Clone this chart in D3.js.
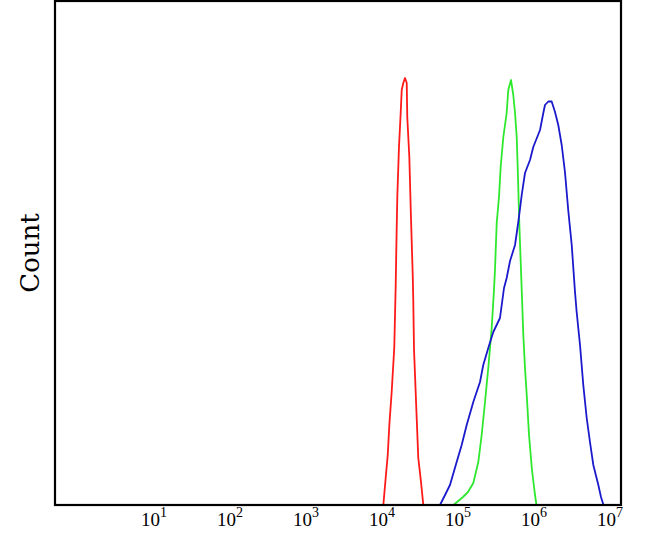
<!DOCTYPE html>
<html>
<head>
<meta charset="utf-8">
<script src="https://cdn.jsdelivr.net/npm/d3@7"></script>
<style>
  html, body { margin: 0; padding: 0; background: #fff; }
  svg { display: block; }
</style>
</head>
<body>
<div id="chart"></div>
<script>
// ---- Data (fluorescence intensity, count) ----
const tickValues = [1e1, 1e2, 1e3, 1e4, 1e5, 1e6, 1e7];
const yLabel = "Count";

const redX = [10570, 11350, 12080, 12680, 13610, 14720, 15380, 15740, 16140, 16980, 17910, 18450, 19360, 20370, 21480, 21830, 23230, 24430, 25760, 26180, 26790, 27610, 29040, 30480, 33110, 35480];
const redY = [0, 13.5, 25, 40, 56.5, 78.5, 110, 132.5, 154, 179, 196.5, 207.5, 211, 213.5, 211, 194, 174, 143.5, 115, 102.5, 77.5, 65, 43.5, 23.5, 11.5, 0];

const greenX = [88510, 118100, 137400, 161400, 187900, 208000, 230100, 254100, 281800, 302000, 311200, 328100, 351600, 369800, 400900, 443600, 465600, 505800, 542000, 571500, 601200, 619400, 650100, 679200, 699800, 734500, 772700, 814700, 873000, 955000, 1047000, 1094000];
const greenY = [0, 4, 6.5, 11, 21.5, 35, 51.5, 68.5, 88.5, 107.5, 117.5, 141, 154, 169, 184, 196, 207.5, 212.5, 205, 196, 184, 169, 141, 121, 107.5, 85, 68.5, 55, 35, 17.5, 5, 0];

const blueX = [58880, 68550, 79620, 97500, 113500, 132100, 161400, 197700, 218300, 254100, 295800, 362200, 409300, 443600, 490900, 571500, 631000, 699800, 772700, 899500, 993100, 1219000, 1346000, 1416000, 1567000, 1734000, 1919000, 2118000, 2350000, 2594000, 2871000, 3184000, 3516000, 3698000, 4093000, 4519000, 5012000, 5534000, 6124000, 7129000, 7727000, 8337000];
const blueY = [0, 5, 10, 21.5, 30, 40, 51.5, 61.5, 70, 78.5, 86.5, 93.5, 108.5, 113.5, 122, 130, 141.5, 155, 166, 172.5, 179, 187.5, 196, 200, 201.75, 201.75, 196.5, 190, 180, 166.5, 147, 130, 106.5, 96.5, 80, 60, 43.5, 31.5, 20, 10, 4, 0];

const seriesNames = ["red", "green", "blue"];
const seriesColors = ["#ff1a1a", "#2ee82e", "#1a1acc"];

// ---- Layout ----
const W = 646, H = 543;
const frame = { left: 55, right: 621, top: 1, bottom: 505 };

const svg = d3.select("#chart").append("svg")
  .attr("width", W).attr("height", H)
  .style("background", "#fff");

const x = d3.scaleLog().domain([1, 1e7]).range([77.5, 609.5]);
const y = d3.scaleLinear().domain([0, 252]).range([frame.bottom, frame.top]);

svg.append("defs").append("clipPath").attr("id", "clip")
  .append("rect")
  .attr("x", frame.left).attr("y", frame.top)
  .attr("width", frame.right - frame.left).attr("height", frame.bottom - frame.top);

const series = [
  { xs: redX, ys: redY },
  { xs: greenX, ys: greenY },
  { xs: blueX, ys: blueY }
];

const line = d3.line().x(d => x(d[0])).y(d => y(d[1]));

const gLines = svg.append("g").attr("clip-path", "url(#clip)");
series.forEach((s, i) => {
  const pts = s.xs.map((v, j) => [v, s.ys[j]]);
  gLines.append("path")
    .datum(pts)
    .attr("fill", "none")
    .attr("stroke", seriesColors[i])
    .attr("stroke-width", 1.8)
    .attr("stroke-linejoin", "round")
    .attr("d", line);
});

// Frame
svg.append("rect")
  .attr("x", frame.left).attr("y", frame.top)
  .attr("width", frame.right - frame.left).attr("height", frame.bottom - frame.top)
  .attr("fill", "none").attr("stroke", "#000").attr("stroke-width", 2.2);

// X axis labels
const gx = svg.append("g")
  .attr("transform", `translate(0,${frame.bottom})`)
  .call(d3.axisBottom(x).tickValues(tickValues).tickSize(0));
gx.select(".domain").remove();
gx.selectAll(".tick text").each(function(d) {
  const t = d3.select(this);
  t.text(null)
    .attr("y", 21).attr("dy", 0)
    .attr("fill", "#000")
    .attr("font-family", "'Liberation Serif', 'Times New Roman', serif")
    .attr("font-size", 19)
    .attr("text-anchor", "middle");
  t.append("tspan").text("10");
  t.append("tspan").attr("dy", -9).attr("font-size", 14).text(Math.round(Math.log10(d)));
});

// Y label
svg.append("text")
  .attr("transform", `translate(39,${(frame.top + frame.bottom) / 2}) rotate(-90)`)
  .attr("text-anchor", "middle")
  .attr("font-family", "'DejaVu Serif', serif")
  .attr("font-size", 26)
  .attr("fill", "#000")
  .text(yLabel);
</script>
</body>
</html>
